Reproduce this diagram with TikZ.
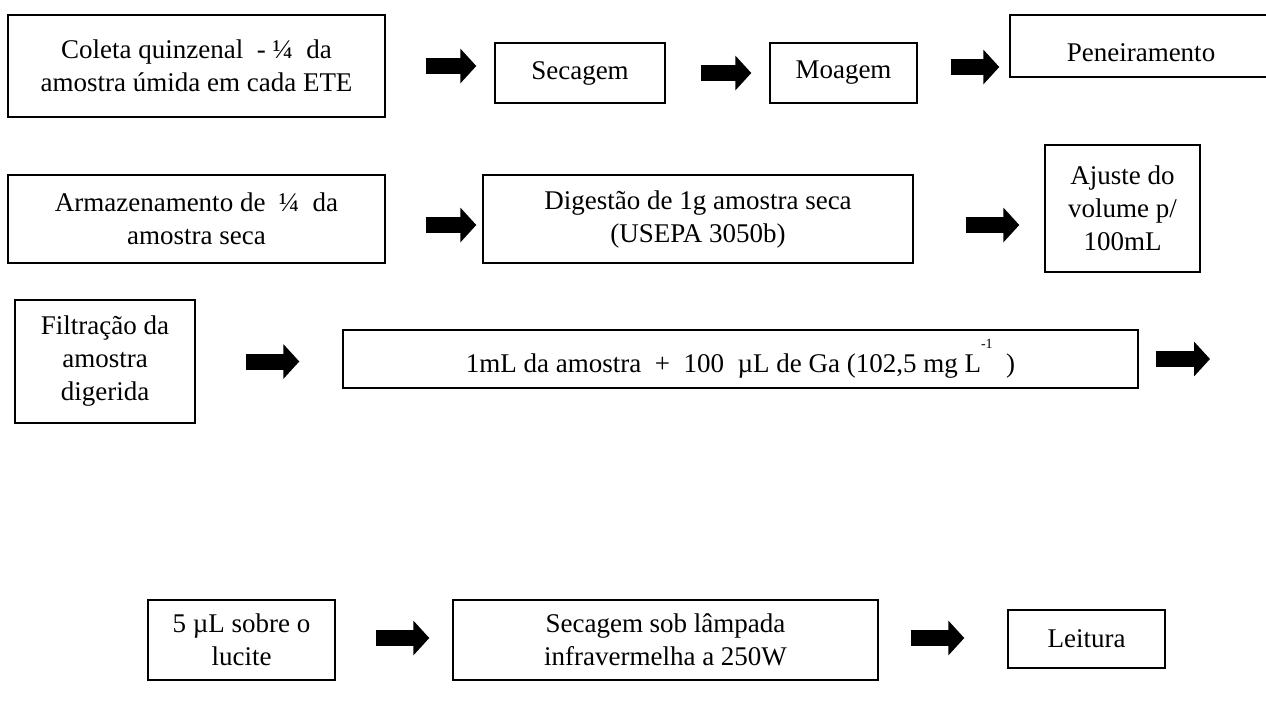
\documentclass[tikz,border=0pt]{standalone}
\usepackage{fontspec}
\setmainfont{Liberation Serif}
\usetikzlibrary{arrows.meta,calc}

\tikzset{
  stepbox/.style={draw, line width=0.7pt, align=center, inner sep=0pt,
    font=\fontsize{13.5}{16.5}\selectfont},
  fatarrow/.style={line width=8pt, -{Triangle[length=8pt,width=17pt]}}
}

\begin{document}
\begin{tikzpicture}[x=0.5pt,y=-0.5pt]
        \useasboundingbox (0,0) rectangle (1266,708);
        % primeira linha
        \node[stepbox, minimum width=188.5pt, minimum height=51pt] (coleta) at (196.5,66) {Coleta quinzenal~ - ¼~ da\\amostra úmida em cada ETE};
        \node[stepbox, minimum width=85pt, minimum height=30pt] (secagem) at (580,73) {Secagem};
        \node[stepbox, minimum width=73.5pt, minimum height=30pt] (moagem) at (843.5,73) {Moagem};
        \node[stepbox, minimum width=131pt, minimum height=31pt, text height=16pt] (peneira) at (1141,46) {Peneiramento};
        % segunda linha
        \node[stepbox, minimum width=188.5pt, minimum height=44pt] (armazen) at (196.5,219) {Armazenamento de~ ¼~ da\\amostra seca};
        \node[stepbox, minimum width=215pt, minimum height=44pt] (digestao) at (698,219) {Digestão de 1g amostra seca\\(USEPA 3050b)};
        \node[stepbox, minimum width=77.5pt, minimum height=63.5pt] (ajuste) at (1122.5,208.5) {Ajuste do\\volume p/\\100mL};
        % terceira linha
        \node[stepbox, minimum width=90pt, minimum height=61.5pt] (filtracao) at (105,361.5) {Filtração da\\amostra\\digerida};
        \node[stepbox, minimum width=397.5pt, minimum height=29pt] (mistura) at (740.5,359) {1mL da amostra~ +~ 100~ µL de Ga (102,5 mg L\raisebox{1.9ex}{\scriptsize -1}~~)};
        \coordinate (fim) at (1210,359);
        % quarta linha
        \node[stepbox, minimum width=93.5pt, minimum height=40pt] (lucite) at (241.5,640) {5 µL sobre o\\lucite};
        \node[stepbox, minimum width=212.5pt, minimum height=40pt] (secsob) at (665.5,640) {Secagem sob lâmpada\\infravermelha a 250W};
        \node[stepbox, minimum width=78.5pt, minimum height=29pt] (leitura) at (1086.5,639) {Leitura};

        \draw[fatarrow] ($(coleta.east)+(40,0)$) -- ($(coleta.east -| secagem.west)+(-18,0)$);
        \draw[fatarrow] ($(secagem.east)+(35,0)$) -- ($(secagem.east -| moagem.west)+(-18,0)$);
        \draw[fatarrow] ($(moagem.east)+(33,-6)$) -- ($(moagem.east -| peneira.west)+(-10,-6)$);
        \draw[fatarrow] ($(armazen.east)+(40,6)$) -- ($(armazen.east -| digestao.west)+(-6,6)$);
        \draw[fatarrow] ($(digestao.east)+(52,6)$) -- ($(digestao.east -| ajuste.west)+(-25,6)$);
        \draw[fatarrow] ($(filtracao.east)+(50,0)$) -- ($(filtracao.east -| mistura.west)+(-43,0)$);
        \draw[fatarrow] ($(mistura.east)+(17,0)$) -- (fim);
        \draw[fatarrow] ($(lucite.east)+(40,-2)$) -- ($(lucite.east -| secsob.west)+(-23,-2)$);
        \draw[fatarrow] ($(secsob.east)+(32,-2)$) -- ($(secsob.east -| leitura.west)+(-43,-2)$);
    \end{tikzpicture}
\end{document}
